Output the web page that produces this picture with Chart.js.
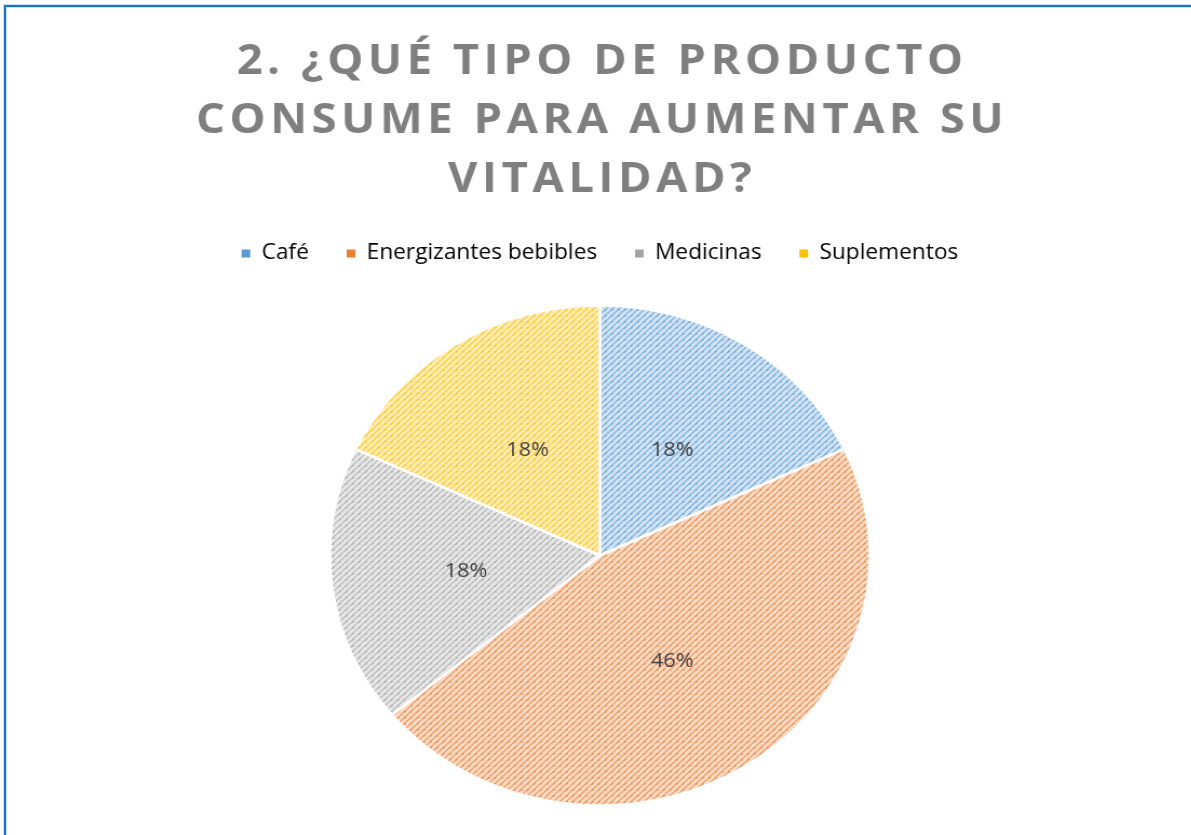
<!DOCTYPE html>
<html>
<head>
<meta charset="utf-8">
<script src="https://cdn.jsdelivr.net/npm/chart.js@4.4.0/dist/chart.umd.min.js"></script>
<style>
    html, body { margin: 0; padding: 0; background: #ffffff; overflow: hidden; width: 1191px; height: 835px; }
    #frame {
        position: absolute; left: 4px; top: 5px; width: 1300px; height: 900px;
        border-left: 2px solid #1a72c6; border-top: 2px solid #1a72c6;
        box-shadow: -1px -1px 0 #cfe1f3, inset 1px 1px 0 #cfe1f3;
    }
    #wrap {
        position: absolute; left: 0; top: 0; width: 1103px; height: 845px;
        transform: scaleX(1.08); transform-origin: 0 0;
    }
</style>
</head>
<body>
<div id="frame"></div>
<div id="wrap"><canvas id="pie"></canvas></div>
<script>
// Chart data
const titleLines = ['2. ¿QUÉ TIPO DE PRODUCTO', 'CONSUME PARA AUMENTAR SU', 'VITALIDAD?'];
const categories = ['Café', 'Energizantes bebibles', 'Medicinas', 'Suplementos'];
const percentages = [18, 46, 18, 18];
const sliceColors = ['#5b9bd5', '#ed7d31', '#a5a5a5', '#ffc000'];

// Excel-like diagonal hatch fill
function makePattern(color) {
    const size = 6;
    const c = document.createElement('canvas');
    c.width = size;
    c.height = size;
    const g = c.getContext('2d');
    g.fillStyle = '#ffffff';
    g.fillRect(0, 0, size, size);
    g.globalAlpha = 0.28;
    g.fillStyle = color;
    g.fillRect(0, 0, size, size);
    g.globalAlpha = 0.75;
    g.strokeStyle = color;
    g.lineWidth = 1.1;
    g.beginPath();
    g.moveTo(-1, size + 1);
    g.lineTo(size + 1, -1);
    g.moveTo(-1, 1);
    g.lineTo(1, -1);
    g.moveTo(size - 1, size + 1);
    g.lineTo(size + 1, size - 1);
    g.stroke();
    // darker dots along the lines
    g.globalAlpha = 0.85;
    g.fillStyle = color;
    g.fillRect(2, 3, 1.5, 1.5);
    return g.createPattern(c, 'repeat');
}

// Title drawn by hand so letter spacing can be applied
const titlePlugin = {
    id: 'spacedTitle',
    afterDraw(chart) {
        const ctx = chart.ctx;
        const cx = (chart.chartArea.left + chart.chartArea.right) / 2;
        ctx.save();
        ctx.font = 'bold 42px "Open Sans"';
        ctx.fillStyle = '#7f7f7f';
        ctx.textAlign = 'center';
        ctx.textBaseline = 'middle';
        ctx.letterSpacing = '4.2px';
        const ys = [62, 121, 180];
        titleLines.forEach((line, i) => ctx.fillText(line, cx + 2, ys[i]));
        ctx.restore();
    }
};

// Percentage labels inside slices
const sliceLabels = {
    id: 'sliceLabels',
    afterDatasetsDraw(chart) {
        const ctx = chart.ctx;
        const meta = chart.getDatasetMeta(0);
        ctx.save();
        ctx.font = '20px "Open Sans"';
        ctx.fillStyle = '#404040';
        ctx.textAlign = 'center';
        ctx.textBaseline = 'middle';
        meta.data.forEach((arc, i) => {
            const p = arc.getProps(['x', 'y', 'startAngle', 'endAngle', 'outerRadius'], true);
            const mid = (p.startAngle + p.endAngle) / 2;
            const r = p.outerRadius * 0.5;
            ctx.fillText(percentages[i] + '%', p.x + Math.cos(mid) * r, p.y + Math.sin(mid) * r);
        });
        ctx.restore();
    }
};

const ctx = document.getElementById('pie').getContext('2d');
new Chart(ctx, {
    type: 'pie',
    data: {
        labels: categories,
        datasets: [{
            data: percentages,
            backgroundColor: sliceColors.map(makePattern),
            borderColor: '#ffffff',
            borderWidth: 2.5,
            radius: 250
        }]
    },
    options: {
        responsive: true,
        maintainAspectRatio: false,
        animation: false,
        layout: { padding: { top: 208, bottom: 8, left: 8, right: 0 } },
        plugins: {
            legend: {
                position: 'top',
                labels: {
                    boxWidth: 8,
                    boxHeight: 8,
                    padding: 35,
                    color: '#595959',
                    font: { family: '"Open Sans"', size: 21 },
                    generateLabels(chart) {
                        return categories.map((name, i) => ({
                            text: name,
                            fillStyle: sliceColors[i],
                            strokeStyle: sliceColors[i],
                            lineWidth: 0,
                            index: i
                        }));
                    }
                }
            },
            tooltip: { enabled: false }
        }
    },
    plugins: [titlePlugin, sliceLabels]
});
</script>
</body>
</html>
